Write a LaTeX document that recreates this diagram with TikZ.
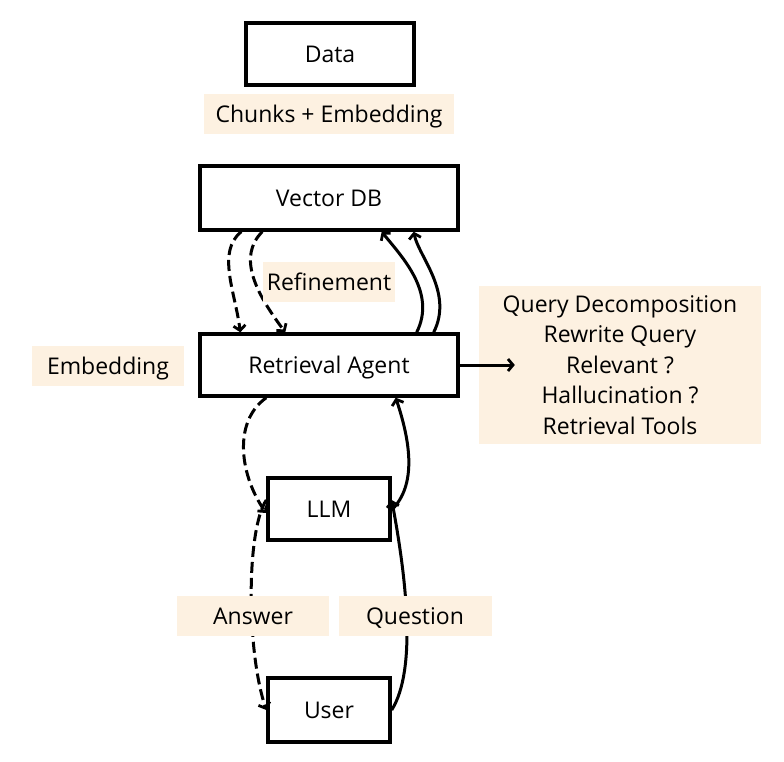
\documentclass[tikz,border=0pt]{standalone}
\usepackage{fontspec}
\setmainfont{Open Sans}
\usetikzlibrary{arrows.meta}
\definecolor{cream}{HTML}{FDF1E1}
\pgfdeclarelayer{back}
\pgfsetlayers{back,main}
\begin{document}
\begin{tikzpicture}[x=1pt,y=-1pt]
            \tikzset{
                box/.style={draw,line width=3.4pt,minimum height=62pt,inner sep=0pt,text depth=0pt,font=\fontsize{23}{26}\selectfont},
                tag/.style={fill=cream,minimum height=40pt,inner sep=0pt,text depth=0pt,font=\fontsize{23}{26}\selectfont},
                link/.style={line width=3pt,-{Straight Barb[length=5pt,width=12pt,line width=2.8pt]}},
                dlink/.style={link,dash pattern=on 11pt off 5pt},}
            \useasboundingbox (0,0) rectangle (784,762);
            % boxes
            \node[box,minimum width=168pt] (data) at (330,54) {Data};
            \node[tag,minimum width=250pt] (chunks) at (329,114) {Chunks + Embedding};
            \node[box,minimum width=258pt,minimum height=64pt] (vdb) at (329,198) {Vector DB};
            \node[tag,minimum width=132pt] (refine) at (329,282) {Refinement};
            \node[box,minimum width=258pt] (agent) at (329,365) {Retrieval Agent};
            \node[tag,minimum width=152pt] (embed) at (108,366) {Embedding};
            \node[tag,minimum width=282pt,minimum height=158pt,align=center,text depth=,
                font=\fontsize{23}{30.5}\selectfont] (tools) at (620,365)
                {Query Decomposition\\Rewrite Query\\Relevant ?\\Hallucination ?\\Retrieval Tools};
            \node[box,minimum width=122pt] (llm) at (329,509) {LLM};
            \node[tag,minimum width=152pt] (answer) at (253,616) {Answer};
            \node[tag,minimum width=153pt] (question) at (415,616) {Question};
            \node[box,minimum width=122pt,minimum height=64pt] (user) at (329,710) {User};
            \draw[link] (agent.east) -- ([xshift=36pt]tools.west);
            % arrows (under the labels)
            \begin{pgfonlayer}{back}
            \draw[dlink] ([xshift=43pt]vdb.south west) .. controls +(-25,20) and +(-5,-40) .. ([xshift=42pt]agent.north west);
            \draw[dlink] ([xshift=64pt]vdb.south west) .. controls +(-25,25) and +(-30,-40) .. ([xshift=87pt]agent.north west);
            \draw[link] ([xshift=-43pt]agent.north east) .. controls +(20,-40) and +(20,25) .. ([xshift=-78pt]vdb.south east);
            \draw[link] ([xshift=-26pt]agent.north east) .. controls +(20,-40) and +(5,25) .. ([xshift=-46pt]vdb.south east);
            \draw[dlink] ([xshift=68pt]agent.south west) .. controls +(-35,25) and +(-25,-35) .. ([yshift=-4pt]llm.west);
            \draw[link] ([yshift=-1pt]llm.east) .. controls +(25,-25) and +(15,45) .. ([xshift=-64pt]agent.south east);
            \draw[dlink] ([yshift=9pt]llm.west) .. controls +(-20,30) and +(-20,-60) .. (user.west);
            \draw[link] (user.east) .. controls +(25,-40) and +(15,80) .. ([yshift=9pt]llm.east);
            \end{pgfonlayer}
        \end{tikzpicture}
\end{document}
